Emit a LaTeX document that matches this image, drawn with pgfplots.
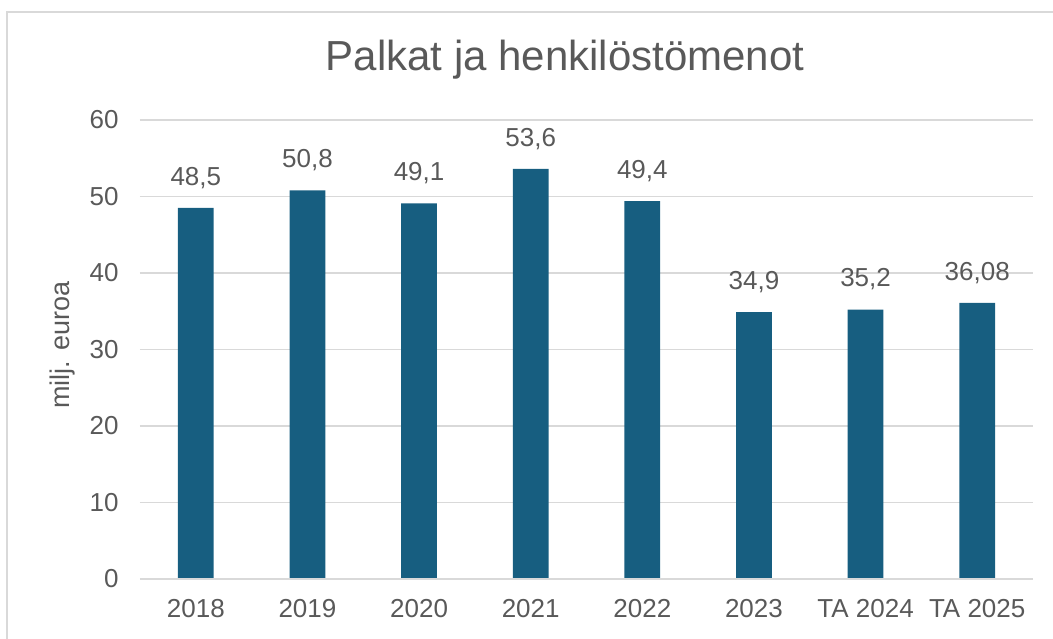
\documentclass[border=0pt]{standalone}
\usepackage{pgfplots}
\pgfplotsset{compat=1.18}
\usepackage{pgfplotstable}
\usepackage{fontspec}
\setmainfont{Liberation Sans}
\definecolor{barc}{HTML}{175E80}
\definecolor{txt}{HTML}{595959}
\definecolor{gridc}{HTML}{D9D9D9}
\pgfplotstableread{
x y lab
0 48.5 48,5
1 50.8 50,8
2 49.1 49,1
3 53.6 53,6
4 49.4 49,4
5 34.9 34,9
6 35.2 35,2
7 36.08 36,08
}\datatab
\begin{document}
\begin{tikzpicture}[x=1pt,y=1pt]
\useasboundingbox (-140,-60) rectangle (913,579);
\draw[gridc, line width=1.5pt] (-133,-62) -- (-133,567) -- (915,567);
\node[txt, font=\fontsize{42}{48}\selectfont] at (425,519) {Palkat ja henkilöstömenot};
\node[txt, font=\fontsize{27}{30}\selectfont, rotate=90] at (-77,234) {milj. euroa};
\begin{axis}[
  at={(0,0)}, anchor=south west,
  scale only axis, width=893pt, height=459pt,
  xmin=-0.5, xmax=7.5, ymin=0, ymax=60,
  ytick={0,10,...,60},
  xtick={0,...,7},
  xticklabels={2018,2019,2020,2021,2022,2023,TA 2024,TA 2025},
  axis line style={draw=none},
  major tick length=0pt,
  ymajorgrids, xmajorgrids=false, grid style={gridc, line width=1.2pt},
  tick label style={txt, font=\fontsize{26}{30}\selectfont},
  /pgf/number format/assume math mode=true,
  yticklabel style={xshift=-18pt},
  xticklabel style={yshift=-17pt},
  clip=false,
]
\addplot[ybar, bar width=0.32, fill=barc, draw=none,
  nodes near coords, point meta=explicit symbolic,
  every node near coord/.append style={txt, font=\fontsize{26}{30}\selectfont, anchor=south, yshift=16pt}]
  table[x=x, y=y, meta=lab] {\datatab};
\draw[gridc, line width=1.2pt] (axis cs:-0.5,0) -- (axis cs:7.5,0);
\end{axis}
\end{tikzpicture}
\end{document}
